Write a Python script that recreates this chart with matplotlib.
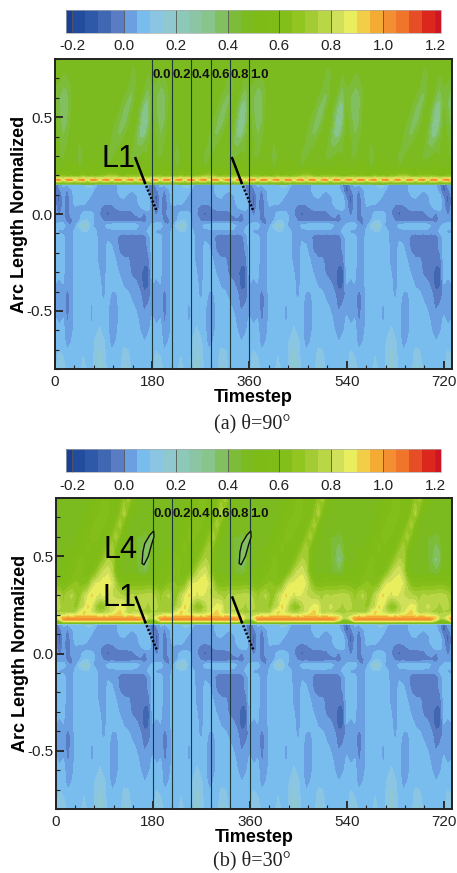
import numpy as np
import matplotlib
matplotlib.use("Agg")
import matplotlib.pyplot as plt
from matplotlib.colors import ListedColormap, BoundaryNorm
from matplotlib.ticker import MultipleLocator

W, H = 457, 873
plt.rcParams['font.family'] = ['Liberation Sans', 'DejaVu Sans']

# contour levels and the colours of the legend bands
levels = [-0.223] + [round(-0.2 + 0.05 * i, 2) for i in range(29)] + [1.223]
band_colors = ['#1a3f95', '#224d9f', '#2e59a8', '#3f67b2', '#5a7cc4', '#6a9fe1', '#78bdee',
               '#8ac6e3', '#8fc9cf', '#8cc9b8', '#8ac6a3', '#88c58c', '#82bf5e', '#7cbc38',
               '#7cbb20', '#7dbb18', '#7fbc18', '#84be1a', '#92c520', '#a2cb34', '#b8d646',
               '#d0e05a', '#e9ee5e', '#f2cd48', '#f4ab34', '#f38f30', '#f0752b', '#e54e26',
               '#dc281c', '#cf1525']

# one blade passage, read every 7.5 timesteps (values x 100)
lower_y = [0.15, 0.12, 0.09, 0.06, 0.03, 0.0, -0.03, -0.06, -0.09, -0.12, -0.18, -0.24,
           -0.30, -0.36, -0.42, -0.48, -0.54, -0.60, -0.66, -0.72, -0.80]
lower_vals = [
    [-7, 2, 6, 5, 7, 7, 8, 9, 12, 12, 6, 3, 2, 2, 2, 4, 7, 7, 7, 7, 7, 7, 6, 0],
    [-7, -2, 3, -1, 4, 7, 7, 7, 8, 7, 3, 2, 2, 2, 2, 4, 7, 7, 7, 5, 7, 7, 7, 2],
    [-2, -7, 2, -3, 3, 7, 7, 7, 7, 4, 2, 2, 2, 2, 2, 2, 5, 6, 3, 2, 4, 7, 7, 7],
    [2, -7, 2, -4, 2, 7, 7, 7, 4, 2, 2, 2, 2, 2, 2, 2, 3, 3, 2, 2, 3, 7, 7, 7],
    [2, -5, 2, -4, 2, 4, 2, 2, 2, 2, 2, 1, -3, -4, -3, 0, 2, 2, 2, 2, 2, 4, 7, 7],
    [2, -1, 2, -3, 2, 2, 3, 7, 8, 7, 3, 0, -4, -6, -4, -3, -3, -3, -3, -2, 1, 2, -1, 2],
    [3, 2, 2, -2, -1, 2, 4, 9, 10, 8, 3, 2, -1, -3, -3, -4, -4, -4, -4, -3, -3, -1, -3, 1],
    [6, 8, 8, 2, 0, 4, 12, 17, 16, 6, 3, 2, 3, 7, 8, 9, 9, 9, 9, 9, 8, 4, 2, 4],
    [7, 4, 3, 0, 2, 7, 8, 10, 10, 7, 6, 2, 2, 3, 3, 3, 3, 3, 3, 3, 3, 3, 3, 6],
    [7, 7, 7, 2, 3, 7, 7, 7, 7, 7, 7, 2, 2, 4, 3, 2, -3, -4, -3, -4, -3, -4, -3, 2],
    [7, 7, 7, 2, 3, 7, 7, 7, 7, 7, 7, 3, 2, 7, 6, 2, -1, -3, -3, -3, -3, -3, -3, 1],
    [7, 7, 7, 2, 3, 7, 7, 7, 7, 7, 7, 3, 2, 7, 7, 5, 2, 1, 1, -2, -3, -3, -3, -3],
    [7, 7, 6, 2, 3, 7, 7, 7, 7, 7, 7, 5, 2, 7, 7, 7, 4, 2, 2, -1, -3, -3, -8, -7],
    [5, 3, 5, 2, 3, 7, 7, 7, 7, 7, 7, 6, 3, 7, 7, 7, 7, 4, 2, 2, 1, -2, -8, -6],
    [2, 2, 3, -3, 2, 7, 7, 7, 7, 7, 7, 6, 4, 7, 4, 4, 7, 7, 7, 3, 2, 1, -3, -3],
    [2, 2, 3, -3, 2, 7, 7, 6, 7, 4, 7, 7, 7, 6, 2, 2, 7, 7, 7, 7, 4, 2, -1, 1],
    [6, 3, 5, -1, 2, 7, 7, 7, 7, 4, 7, 8, 7, 6, 2, 2, 7, 7, 7, 7, 7, 3, 2, 2],
    [7, 7, 7, 1, 3, 7, 7, 7, 7, 7, 8, 11, 8, 6, 2, 3, 7, 7, 7, 7, 7, 5, 2, 4],
    [7, 7, 7, 3, 5, 7, 7, 7, 7, 7, 11, 14, 11, 7, 3, 5, 7, 8, 8, 7, 7, 7, 5, 7],
    [7, 11, 9, 6, 7, 7, 7, 9, 7, 7, 12, 16, 12, 7, 6, 7, 7, 12, 11, 7, 7, 7, 7, 7],
    [8, 15, 14, 8, 10, 8, 7, 14, 8, 7, 13, 18, 14, 8, 7, 7, 8, 16, 15, 8, 7, 7, 8, 8],
]

upper_y_a = [0.80, 0.72, 0.66, 0.60, 0.54, 0.48, 0.42, 0.36, 0.30, 0.24, 0.20, 0.185, 0.176, 0.168, 0.158]
upper_vals_a = [
    [48, 50, 50, 50, 50, 50, 50, 50, 50, 50, 50, 50, 50, 50, 50, 50, 50, 50, 50, 46, 48, 50, 50, 50],
    [47, 48, 44, 45, 49, 50, 50, 50, 50, 50, 50, 50, 50, 50, 50, 50, 50, 50, 48, 43, 44, 48, 48, 44],
    [45, 43, 40, 41, 45, 49, 50, 50, 50, 50, 50, 50, 50, 50, 50, 50, 50, 48, 45, 41, 45, 48, 45, 40],
    [44, 40, 37, 38, 44, 49, 50, 50, 50, 50, 50, 50, 50, 50, 50, 50, 48, 44, 40, 38, 46, 47, 39, 35],
    [45, 40, 36, 38, 45, 49, 50, 48, 50, 50, 50, 50, 50, 50, 50, 48, 44, 39, 37, 44, 48, 40, 31, 33],
    [47, 42, 36, 39, 46, 49, 47, 46, 50, 50, 50, 50, 50, 50, 48, 44, 40, 36, 41, 48, 46, 36, 28, 34],
    [47, 44, 39, 42, 47, 49, 46, 47, 50, 50, 50, 50, 50, 48, 45, 41, 38, 42, 47, 48, 42, 33, 31, 39],
    [49, 46, 42, 45, 49, 48, 44, 48, 50, 50, 50, 48, 47, 46, 44, 42, 44, 48, 50, 46, 40, 38, 41, 44],
    [49, 45, 43, 48, 50, 48, 41, 45, 50, 50, 49, 47, 46, 44, 43, 47, 49, 50, 48, 43, 42, 45, 47, 45],
    [50, 48, 50, 54, 50, 52, 44, 48, 52, 50, 52, 50, 50, 45, 50, 50, 50, 50, 50, 50, 50, 50, 54, 50],
    [56, 60, 62, 56, 60, 52, 58, 64, 56, 60, 58, 60, 64, 66, 68, 66, 60, 56, 62, 60, 62, 62, 60, 54],
    [82, 84, 80, 84, 82, 84, 80, 84, 82, 84, 80, 84, 82, 84, 80, 84, 82, 84, 80, 84, 80, 84, 82, 80],
    [100, 104, 82, 102, 104, 84, 100, 104, 80, 102, 104, 84, 100, 104, 82, 102, 104, 84, 100, 104, 80, 102, 104, 82],
    [76, 78, 72, 78, 76, 72, 78, 76, 72, 78, 76, 72, 78, 76, 72, 78, 76, 72, 78, 76, 72, 78, 76, 72],
    [60, 62, 60, 62, 60, 62, 60, 62, 60, 62, 60, 62, 60, 62, 60, 62, 60, 62, 60, 62, 60, 62, 60, 62],
]

upper_y_b = [0.80, 0.72, 0.66, 0.60, 0.54, 0.48, 0.42, 0.36, 0.30, 0.24, 0.215, 0.195, 0.185, 0.175, 0.166, 0.157]
upper_vals_b = [
    [50, 50, 50, 50, 50, 50, 50, 50, 50, 52, 55, 58, 62, 60, 55, 52, 58, 68, 74, 60, 52, 50, 50, 50],
    [50, 50, 50, 50, 50, 50, 50, 50, 52, 55, 58, 60, 64, 60, 56, 55, 66, 76, 58, 50, 50, 50, 50, 50],
    [50, 50, 50, 50, 50, 50, 50, 52, 55, 58, 62, 64, 60, 56, 57, 65, 74, 56, 50, 48, 47, 47, 47, 48],
    [50, 50, 50, 50, 50, 50, 52, 55, 58, 62, 62, 58, 55, 58, 66, 74, 60, 52, 49, 47, 45, 45, 43, 45],
    [50, 50, 50, 50, 50, 52, 55, 58, 62, 58, 56, 56, 60, 68, 74, 60, 52, 48, 47, 47, 45, 42, 36, 40],
    [50, 50, 50, 52, 54, 57, 62, 60, 56, 54, 56, 62, 70, 76, 74, 56, 50, 48, 47, 47, 45, 40, 33, 38],
    [52, 50, 52, 54, 56, 60, 62, 58, 56, 58, 66, 76, 82, 84, 76, 58, 50, 48, 48, 48, 46, 42, 40, 44],
    [62, 60, 58, 60, 64, 66, 64, 62, 66, 78, 85, 86, 88, 88, 84, 72, 62, 60, 60, 62, 62, 62, 62, 62],
    [76, 74, 68, 74, 76, 70, 68, 78, 84, 91, 86, 84, 86, 84, 80, 78, 76, 74, 74, 76, 74, 76, 76, 78],
    [78, 76, 70, 74, 72, 66, 76, 80, 91, 84, 72, 64, 66, 76, 82, 84, 88, 86, 76, 76, 82, 78, 76, 72],
    [74, 74, 70, 72, 72, 74, 84, 91, 88, 82, 76, 72, 74, 78, 82, 88, 91, 84, 74, 76, 78, 74, 72, 68],
    [78, 80, 86, 88, 88, 88, 90, 90, 90, 90, 88, 88, 88, 88, 90, 91, 91, 88, 88, 88, 88, 86, 84, 78],
    [80, 88, 97, 98, 97, 98, 98, 98, 98, 98, 98, 97, 98, 97, 98, 98, 98, 97, 98, 98, 97, 96, 92, 80],
    [68, 82, 100, 102, 102, 102, 102, 102, 103, 103, 102, 102, 102, 102, 102, 103, 102, 102, 102, 102, 102, 100, 90, 68],
    [50, 62, 84, 85, 84, 85, 86, 85, 86, 86, 86, 85, 84, 85, 86, 86, 85, 85, 86, 85, 84, 84, 72, 50],
    [48, 52, 56, 54, 55, 56, 54, 55, 56, 55, 54, 56, 55, 54, 56, 55, 54, 55, 56, 55, 54, 55, 54, 48],
]

x_ticks = [0, 180, 360, 540, 720]
y_ticks = [-0.5, 0.0, 0.5]
phase_steps = [180, 216, 252, 288, 324, 360]
phase_labels = ['0.0', '0.2', '0.4', '0.6', '0.8', '1.0']
step = 7.5
n_periods = 4
extra_cols = 3

l1_solid = [([149, 166], [0.288, 0.164]), ([328, 345], [0.288, 0.164])]
l1_dots = [([166, 188], [0.164, 0.017]), ([345, 367], [0.164, 0.017])]
l4_t = [[182, 182.5, 178, 172, 164, 160.5, 162, 165.5, 175, 182],
        [362, 362.5, 358, 352, 344, 340.5, 342, 345.5, 355, 362]]
l4_s = [0.63, 0.60, 0.56, 0.50, 0.456, 0.464, 0.524, 0.566, 0.61, 0.63]


def add_axes_px(fig, left, top, right, bottom):
    return fig.add_axes([left / W, 1 - bottom / H, (right - left) / W, (bottom - top) / H])


def draw_panel(fig, box, cbar_box, upper_y, upper_vals, caption, caption_y, show_l4):
    cmap = ListedColormap(band_colors)
    norm = BoundaryNorm(levels, cmap.N)

    # stack the two halves and repeat the passage along the x axis
    period = np.vstack([np.array(upper_vals), np.array(lower_vals)]) / 100.0
    z = np.hstack([np.tile(period, (1, n_periods)), period[:, :extra_cols]])
    y = np.array(upper_y + lower_y)
    t = np.arange(z.shape[1]) * step

    ax = add_axes_px(fig, *box)
    cs = ax.contourf(t, y[::-1], z[::-1], levels=levels, cmap=cmap, norm=norm)
    ax.set_xlim(0, 735)
    ax.set_ylim(-0.8, 0.8)

    ax.xaxis.set_major_locator(MultipleLocator(180))
    ax.xaxis.set_minor_locator(MultipleLocator(36))
    ax.yaxis.set_major_locator(MultipleLocator(0.5))
    ax.yaxis.set_minor_locator(MultipleLocator(0.1))
    ax.set_xticks(x_ticks)
    ax.set_yticks(y_ticks)
    ax.set_yticklabels(['-0.5', '0.0', '0.5'])
    ax.tick_params(which='major', direction='in', length=6, width=1.3, labelsize=11, pad=4, colors='#222222')
    ax.tick_params(which='minor', direction='in', length=3, width=0.8, color='#222222')
    ax.tick_params(axis='y', which='major', pad=1.5)
    for s in ax.spines.values():
        s.set_linewidth(1.4)
        s.set_color('#222222')

    for v, lab in zip(phase_steps, phase_labels):
        ax.axvline(v, color='#1c3a3a', lw=0.8, zorder=3)
        ax.text(v + 18, 0.72, lab, ha='center', va='center', fontsize=9.5, fontweight='bold', color='#111111')

    for (xs, ys) in l1_solid:
        ax.plot(xs, ys, color='k', lw=1.8, zorder=4)
    for (xs, ys) in l1_dots:
        ax.plot(xs, ys, color='k', lw=1.8, ls=(0, (0.8, 0.8)), zorder=4)
    ax.text(118, 0.285, 'L1', ha='center', va='center', fontsize=22, color='k')

    if show_l4:
        for xs in l4_t:
            ax.fill(xs, l4_s, facecolor='#82bf5e', edgecolor='#111111', lw=1.0, zorder=4)
        ax.text(121, 0.53, 'L4', ha='center', va='center', fontsize=22, color='k')

    ax.set_xlabel('Timestep', fontsize=13, fontweight='bold', labelpad=0)
    ax.set_ylabel('Arc Length Normalized', fontsize=13, fontweight='bold', labelpad=-1)

    # legend bar on top of the panel
    cax = add_axes_px(fig, *cbar_box)
    cb = fig.colorbar(cs, cax=cax, orientation='horizontal', ticks=[-0.2, 0.0, 0.2, 0.4, 0.6, 0.8, 1.0, 1.2],
                      spacing='proportional', drawedges=False)
    cb.ax.set_xticklabels(['-0.2', '0.0', '0.2', '0.4', '0.6', '0.8', '1.0', '1.2'])
    cb.ax.tick_params(direction='in', length=16.5, width=0.6, color='#555555', labelsize=11, pad=4.5, labelcolor='#222222')
    cb.ax.minorticks_off()
    cb.outline.set_linewidth(0.5)
    cb.outline.set_edgecolor('#aaaaaa')

    fig.text(252 / W, 1 - caption_y / H, caption, ha='center', va='center', fontsize=14.5,
             family=['Liberation Serif', 'DejaVu Serif'], color='#222222')


def main():
    fig = plt.figure(figsize=(W / 100, H / 100), dpi=100, facecolor='white')
    draw_panel(fig, (55, 59, 452, 369), (66, 10, 441, 33), upper_y_a, upper_vals_a, '(a) θ=90°', 424, False)
    draw_panel(fig, (55.5, 498, 452, 809), (66, 449.5, 441, 472.5), upper_y_b, upper_vals_b, '(b) θ=30°', 861, True)
    fig.savefig('out.png', dpi=100, facecolor='white')


if __name__ == "__main__":
    main()
